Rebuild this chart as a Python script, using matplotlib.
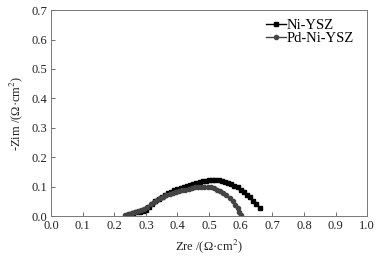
import matplotlib
matplotlib.use('Agg')
import matplotlib.pyplot as plt

ni_x = [0.25, 0.26, 0.27, 0.28, 0.29, 0.30, 0.31, 0.32, 0.33, 0.34, 0.35, 0.36, 0.37, 0.38,
        0.39, 0.40, 0.41, 0.42, 0.43, 0.44, 0.45, 0.46, 0.47, 0.48, 0.49, 0.50, 0.51, 0.52,
        0.53, 0.54, 0.55, 0.56, 0.57, 0.58, 0.59, 0.60, 0.61, 0.62, 0.63, 0.64, 0.65, 0.66]
ni_y = [0.008, 0.010, 0.012, 0.014, 0.017, 0.022, 0.030, 0.040, 0.050, 0.058, 0.065, 0.071,
        0.077, 0.082, 0.087, 0.091, 0.095, 0.099, 0.103, 0.106, 0.110, 0.113, 0.116, 0.118,
        0.120, 0.121, 0.122, 0.122, 0.121, 0.119, 0.116, 0.113, 0.108, 0.103, 0.097, 0.090,
        0.082, 0.073, 0.063, 0.052, 0.040, 0.028]

pd_x = [0.235, 0.245, 0.255, 0.265, 0.275, 0.285, 0.295, 0.305, 0.315, 0.325, 0.335, 0.345,
        0.355, 0.365, 0.375, 0.385, 0.395, 0.405, 0.415, 0.425, 0.435, 0.445, 0.455, 0.465,
        0.475, 0.485, 0.495, 0.505, 0.515, 0.525, 0.535, 0.545, 0.555, 0.565, 0.575, 0.583,
        0.590, 0.596, 0.600]
pd_y = [0.002, 0.006, 0.010, 0.013, 0.016, 0.019, 0.024, 0.031, 0.040, 0.048, 0.055, 0.061,
        0.066, 0.071, 0.075, 0.078, 0.081, 0.084, 0.087, 0.090, 0.093, 0.095, 0.097, 0.099,
        0.100, 0.100, 0.099, 0.097, 0.094, 0.090, 0.085, 0.079, 0.071, 0.062, 0.050, 0.038,
        0.026, 0.014, 0.004]

xticks = [0.0, 0.1, 0.2, 0.3, 0.4, 0.5, 0.6, 0.7, 0.8, 0.9, 1.0]
yticks = [0.0, 0.1, 0.2, 0.3, 0.4, 0.5, 0.6, 0.7]

plt.rcParams['font.family'] = ['Liberation Serif', 'DejaVu Serif']
plt.rcParams['mathtext.fontset'] = 'stix'

fig = plt.figure(figsize=(3.84, 2.59), dpi=100)
ax = fig.add_axes([0.133, 0.166, 0.823, 0.795])

ax.plot(ni_x, ni_y, '-s', color='black', ms=2.8, lw=1, label='Ni-YSZ')
ax.plot(pd_x, pd_y, '-o', color='#444444', ms=3.0, lw=1, label='Pd-Ni-YSZ')

ax.set_xlim(0, 1.0)
ax.set_ylim(0, 0.7)
ax.set_xticks(xticks)
ax.set_yticks(yticks)
ax.set_xticklabels([f'{t:.1f}' for t in xticks])
ax.set_yticklabels([f'{t:.1f}' for t in yticks])
ax.tick_params(direction='in', length=3, width=0.6, labelsize=9, color='#555555',
               labelcolor='#222222', top=False, right=False, pad=3)
for s in ax.spines.values():
    s.set_color('#777777')
    s.set_linewidth(0.7)

ax.set_xlabel('Zre /(Ω·cm$^2$)', fontsize=9, color='#222222', labelpad=4)
ax.set_ylabel('-Zim /(Ω·cm$^2$)', fontsize=9, color='#222222', labelpad=4)

ax.legend(loc='upper right', frameon=False, fontsize=10.5, handlelength=1.4,
          handletextpad=0.0, labelspacing=0.0, borderaxespad=0.0,
          bbox_to_anchor=(0.975, 0.985))

plt.savefig('out.png', dpi=100)
